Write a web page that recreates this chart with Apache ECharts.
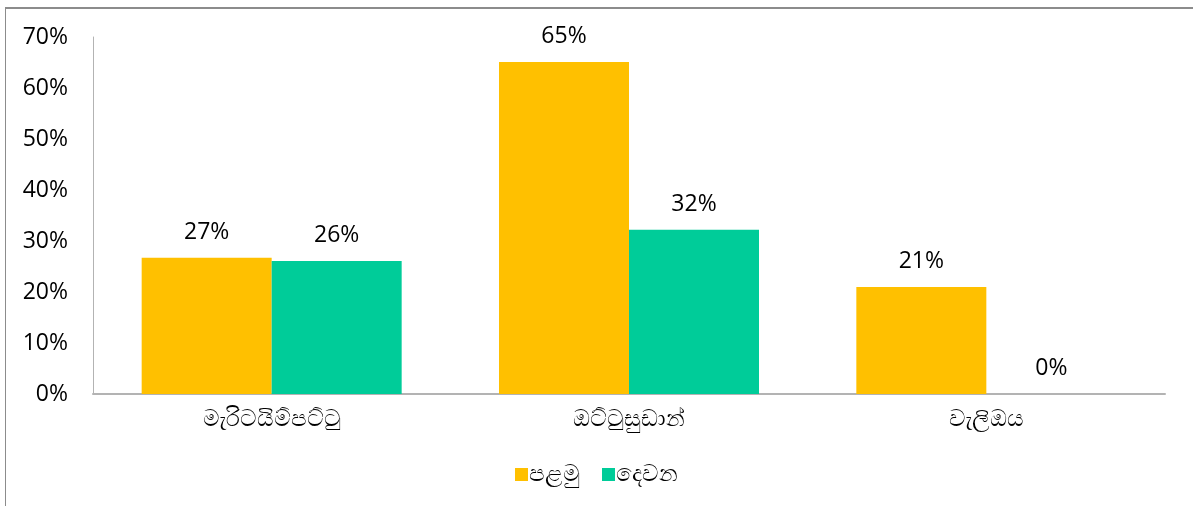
<!DOCTYPE html>
<html>
<head>
<meta charset="utf-8">
<script src="https://cdn.jsdelivr.net/npm/echarts@6/dist/echarts.min.js"></script>
<style>
  html, body { margin: 0; padding: 0; background: #fff; }
  #frame {
    position: absolute; left: 5px; top: 7px; width: 1200px; height: 510px;
    border-left: 1px solid #8c8c8c; border-top: 2px solid #8c8c8c;
  }
  #chart { position: absolute; left: 0; top: 0; width: 1193px; height: 506px; }
</style>
</head>
<body>
<div id="frame"></div>
<div id="chart"></div>
<script>
// දත්ත
var categories = ['මැරිටයිම්පට්ටු', 'ඔට්ටුසුඩාන්', 'වැලිඔය'];
var seriesNames = ['පළමු', 'දෙවන'];
var firstValues = [26.7, 65.1, 21.0];
var secondValues = [26.1, 32.2, 0];
var yTicks = [0, 10, 20, 30, 40, 50, 60, 70];

var fontFam = "'Open Sans', 'Noto Sans', sans-serif";

var chart = echarts.init(document.getElementById('chart'));
chart.setOption({
    animation: false,
    color: ['#ffc000', '#00cc99'],
    textStyle: { fontFamily: fontFam },
    legend: {
        bottom: 15,
        left: 'center',
        itemWidth: 13,
        itemHeight: 13,
        itemGap: 22,
        icon: 'rect',
        textStyle: { fontSize: 23, color: '#000', fontFamily: fontFam, padding: [0, 0, 0, -4] },
        data: seriesNames
    },
    grid: {
        left: 93,
        right: 28,
        top: 37,
        bottom: 112
    },
    xAxis: {
        type: 'category',
        data: categories,
        axisLine: { lineStyle: { color: '#b3b3b3', width: 2 } },
        axisTick: { show: false },
        axisLabel: { fontSize: 23, color: '#000', margin: 14 }
    },
    yAxis: {
        type: 'value',
        min: yTicks[0],
        max: yTicks[yTicks.length - 1],
        interval: 10,
        axisLine: { show: true, lineStyle: { color: '#b3b3b3', width: 1 } },
        axisTick: { show: false },
        splitLine: { show: false },
        axisLabel: {
            fontSize: 23,
            color: '#000',
            margin: 25,
            formatter: function (v) { return v + '%'; }
        }
    },
    series: [{
        name: seriesNames[0],
        type: 'bar',
        barWidth: 130,
        barGap: '0%',
        data: firstValues,
        label: {
            show: true,
            position: 'top',
            distance: 14,
            fontSize: 23,
            color: '#000',
            formatter: function (p) { return Math.round(p.value) + '%'; }
        }
    }, {
        name: seriesNames[1],
        type: 'bar',
        barWidth: 130,
        barGap: '0%',
        data: secondValues,
        label: {
            show: true,
            position: 'top',
            distance: 14,
            fontSize: 23,
            color: '#000',
            formatter: function (p) { return Math.round(p.value) + '%'; }
        }
    }]
});
</script>
</body>
</html>
